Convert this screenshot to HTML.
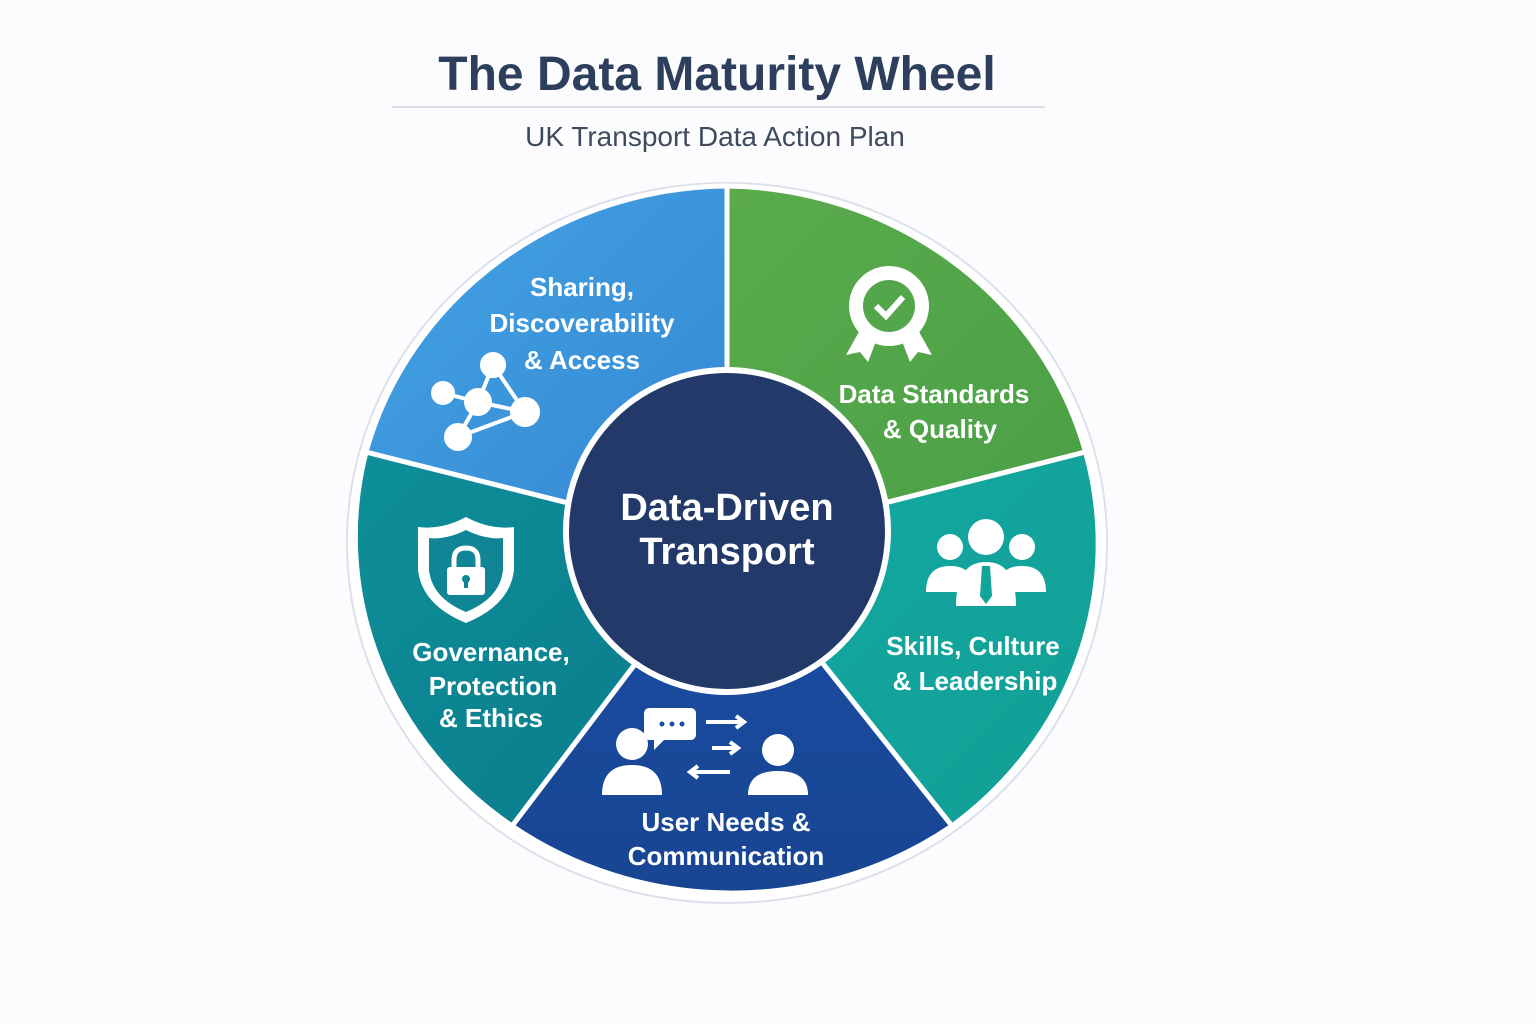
<!DOCTYPE html>
<html><head><meta charset="utf-8"><style>
body{margin:0;width:1536px;height:1024px;background:#fcfcfe;overflow:hidden}
svg{display:block}
text{font-family:"Liberation Sans","DejaVu Sans",sans-serif}
</style></head><body>
<svg width="1536" height="1024" viewBox="0 0 1536 1024">
<defs>
<linearGradient id="gb" x1="0" y1="0" x2="1" y2="1"><stop offset="0" stop-color="#44a3e4"/><stop offset="1" stop-color="#3487d2"/></linearGradient>
<linearGradient id="gg" x1="0" y1="0" x2="1" y2="1"><stop offset="0" stop-color="#5aab4c"/><stop offset="1" stop-color="#4a9f45"/></linearGradient>
<linearGradient id="gt" x1="0" y1="0" x2="1" y2="1"><stop offset="0" stop-color="#11aaa4"/><stop offset="1" stop-color="#139e94"/></linearGradient>
<linearGradient id="gd" x1="0" y1="0" x2="0" y2="1"><stop offset="0" stop-color="#1a4ea4"/><stop offset="1" stop-color="#184592"/></linearGradient>
<linearGradient id="gl" x1="0" y1="0" x2="1" y2="1"><stop offset="0" stop-color="#0d8f9a"/><stop offset="1" stop-color="#0c7a8a"/></linearGradient>
</defs>
<text x="717" y="90" text-anchor="middle" font-size="48" font-weight="bold" fill="#2d3f5c">The Data Maturity Wheel</text>
<line x1="392" y1="107" x2="1045" y2="107" stroke="#cfd4dc" stroke-width="1.5"/>
<text x="715" y="146" text-anchor="middle" font-size="28" fill="#3e4a5e">UK Transport Data Action Plan</text>

<ellipse cx="727" cy="543" rx="380" ry="360" fill="#fff" stroke="#dde0ea" stroke-width="2"/>
<g stroke="#fff" stroke-width="5" stroke-linejoin="round">
<path d="M727 543 L727 186 A377 357 0 0 1 1085.5 452 Z" fill="url(#gg)"/>
<path d="M727 543 L1085.5 452 A377 357 0 0 1 952 826 Z" fill="url(#gt)"/>
<path d="M727 543 L952 826 A377 357 0 0 1 512 826 Z" fill="url(#gd)"/>
<path d="M727 543 L512 826 A377 357 0 0 1 366 452 Z" fill="url(#gl)"/>
<path d="M727 543 L366 452 A377 357 0 0 1 727 186 Z" fill="url(#gb)"/>
</g>
<circle cx="727" cy="531" r="161" fill="#22396a" stroke="#fff" stroke-width="6"/>
<text x="727" y="520" text-anchor="middle" font-size="38" font-weight="bold" fill="#fff">Data-Driven</text>
<text x="727" y="564" text-anchor="middle" font-size="38" font-weight="bold" fill="#fff">Transport</text>

<g fill="#fff" font-weight="bold" text-anchor="middle" font-size="26">
<text x="582" y="296">Sharing,</text>
<text x="582" y="332">Discoverability</text>
<text x="582" y="369">&amp; Access</text>
<text x="934" y="403">Data Standards</text>
<text x="940" y="438">&amp; Quality</text>
<text x="973" y="655">Skills, Culture</text>
<text x="975" y="690">&amp; Leadership</text>
<text x="726" y="831">User Needs &amp;</text>
<text x="726" y="865">Communication</text>
<text x="491" y="661">Governance,</text>
<text x="493" y="695">Protection</text>
<text x="491" y="727">&amp; Ethics</text>
</g>

<g stroke="#fff" stroke-width="4" fill="#fff">
<line x1="443" y1="393" x2="478" y2="402"/><line x1="493" y1="365" x2="478" y2="402"/><line x1="493" y1="365" x2="525" y2="412"/>
<line x1="478" y1="402" x2="525" y2="412"/><line x1="478" y1="402" x2="458" y2="437"/><line x1="458" y1="437" x2="525" y2="412"/>
<circle cx="443" cy="393" r="10"/><circle cx="493" cy="365" r="11"/><circle cx="478" cy="402" r="12"/><circle cx="525" cy="412" r="13"/><circle cx="458" cy="437" r="12"/>
</g>
<g fill="#fff">
<path d="M860 330 L846 355 L860 352 L868 362 L878 336 Z"/><path d="M918 330 L932 355 L918 352 L910 362 L900 336 Z"/>
<circle cx="889" cy="306" r="40"/>
<circle cx="889" cy="306" r="26" fill="#53a64a"/>
<path d="M876 306 L886 316 L903 297" stroke="#fff" stroke-width="6" fill="none"/>
</g>
<g fill="#fff">
<circle cx="950" cy="547" r="13"/><circle cx="1022" cy="547" r="13"/><circle cx="986" cy="537" r="18"/>
<path d="M926 592 Q926 566 950 566 Q966 566 970 576 L970 592 Z"/>
<path d="M1046 592 Q1046 566 1022 566 Q1006 566 1002 576 L1002 592 Z"/>
<path d="M956 606 Q956 562 986 562 Q1016 562 1016 606 Z"/>
<path d="M982 566 L990 566 L992 596 L986 604 L980 596 Z" fill="#13a49a"/>
</g>
<g>
<path d="M466 517 Q490 530 514 527 L514 570 Q510 605 466 623 Q422 605 418 570 L418 527 Q442 530 466 517 Z" fill="#fff"/>
<path d="M466 530 Q486 540 503 538 L503 570 Q500 598 466 612 Q432 598 429 570 L429 538 Q446 540 466 530 Z" fill="#0f8595"/>
<path d="M454 569 L454 560 Q454 548 466 548 Q478 548 478 560 L478 569" stroke="#fff" stroke-width="5" fill="none"/>
<rect x="447" y="567" width="38" height="28" rx="3" fill="#fff"/>
<circle cx="466" cy="579" r="4" fill="#0f8595"/><rect x="464" y="580" width="4" height="8" fill="#0f8595"/>
</g>
<g fill="#fff">
<circle cx="632" cy="744" r="16"/><path d="M602 795 Q602 765 632 765 Q662 765 662 795 Z"/>
<circle cx="778" cy="750" r="16"/><path d="M748 795 Q748 771 778 771 Q808 771 808 795 Z"/>
<path d="M650 708 h40 q6 0 6 6 v20 q0 6 -6 6 h-26 l-10 10 v-10 h-4 q-6 0 -6 -6 v-20 q0 -6 6 -6 Z"/>
<circle cx="662" cy="724" r="2.5" fill="#1a4ea4"/><circle cx="672" cy="724" r="2.5" fill="#1a4ea4"/><circle cx="682" cy="724" r="2.5" fill="#1a4ea4"/>
</g>
<g stroke="#fff" stroke-width="4" fill="none">
<path d="M706 722 h38 M736 716 l8 6 l-8 6"/><path d="M712 748 h26 M730 742 l8 6 l-8 6"/>
<path d="M690 772 h40 M698 766 l-8 6 l8 6"/>
</g>
</svg>
</body></html>
